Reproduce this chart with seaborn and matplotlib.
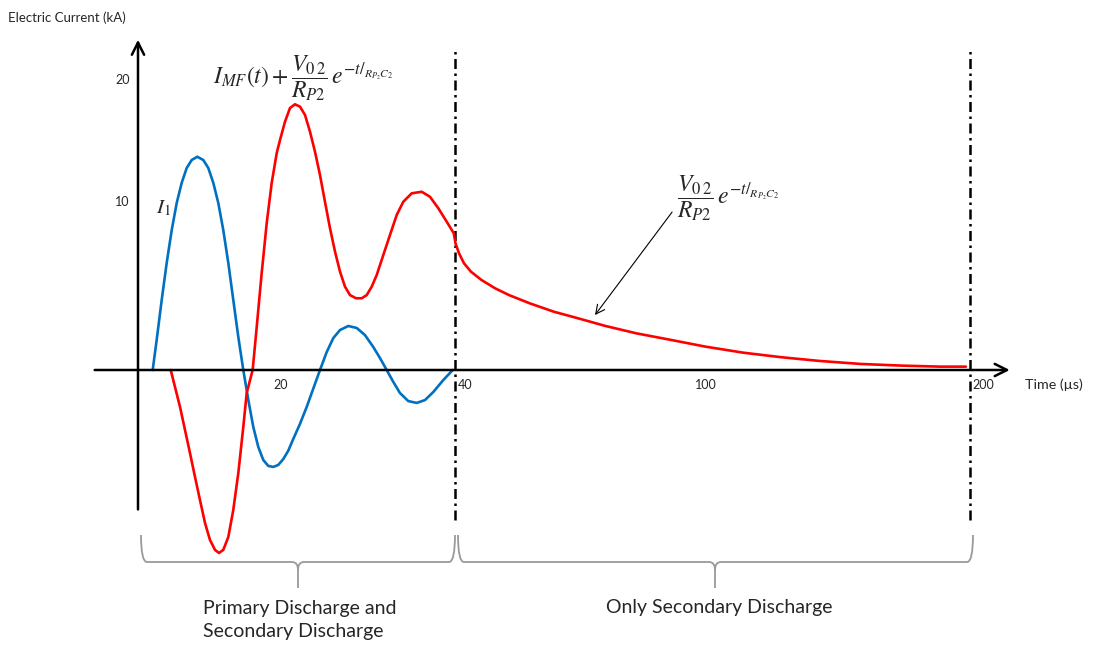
import matplotlib
matplotlib.use('Agg')
import matplotlib.pyplot as plt
import matplotlib.transforms as mtransforms
from matplotlib.path import Path
from matplotlib.patches import PathPatch
import seaborn as sns
import numpy as np

# --- data (time in us, current in kA) ---
i1_time = [2.07, 2.63, 3.34, 4.04, 4.75, 5.45, 6.15, 6.86, 7.56, 8.35, 9.20, 9.90,
           10.61, 11.31, 12.01, 12.72, 13.42, 14.13, 14.83, 15.54, 16.24, 16.94,
           17.65, 18.35, 19.06, 19.76, 20.38, 20.95, 21.52, 22.29, 23.05, 23.81,
           24.57, 25.34, 26.09, 26.86, 27.81, 28.77, 29.71, 30.66, 31.43, 32.19,
           32.95, 33.71, 34.66, 35.62, 36.57, 37.52, 38.66, 39.74]
i1_current = [0, 1.79, 4.17, 6.37, 8.33, 9.94, 11.56, 12.79, 13.44, 13.71, 13.44,
              12.79, 11.56, 9.94, 8.33, 6.37, 4.17, 1.96, 0, -1.79, -3.39, -4.58,
              -5.36, -5.71, -5.77, -5.65, -5.30, -4.80, -4.10, -3.20, -2.20, -1.10,
              0, 1.07, 1.90, 2.38, 2.62, 2.50, 2.08, 1.37, 0.71, 0,
              -0.71, -1.37, -1.85, -1.96, -1.79, -1.31, -0.60, 0]

i2_time = [4.61, 5.21, 5.92, 6.62, 7.32, 8.03, 8.73, 9.44, 10.14, 10.85, 11.41,
           12.01, 12.72, 13.42, 14.13, 14.83, 15.31, 16.15, 16.72, 17.42, 18.13,
           18.83, 19.54, 20.0, 20.57, 21.14, 21.71, 22.29, 22.86, 23.43, 24.0,
           24.57, 25.14, 25.71, 26.29, 26.86, 27.43, 28.0, 28.69, 29.34, 29.91,
           30.48, 31.05, 31.81, 32.57, 33.34, 34.09, 35.05, 36.19, 37.14, 38.09,
           39.05, 39.86, 40.12, 40.96, 42.16, 43.84, 46.34, 49.65, 52.96, 57.93,
           63.71, 69.50, 76.12, 83.58, 91.84, 100.19, 114.49, 128.83, 143.13,
           158.75, 174.34, 188.68, 198.45]
i2_current = [0, -1.01, -2.20, -3.57, -4.94, -6.37, -7.74, -9.11, -10.12, -10.71,
              -10.89, -10.71, -9.94, -8.33, -6.13, -3.39, -1.37, 0, 2.56, 5.77,
              8.75, 11.56, 14.02, 15.08, 16.58, 17.70, 18.01, 17.81, 17.13, 15.76,
              14.12, 12.21, 10.02, 8.45, 7.04, 5.85, 4.96, 4.46, 4.27, 4.27, 4.46,
              4.96, 5.65, 6.85, 8.04, 9.23, 10.02, 10.71, 10.84, 10.43, 9.63,
              8.83, 8.14, 7.54, 6.95, 6.35, 5.85, 5.36, 4.86, 4.46, 3.97,
              3.47, 3.08, 2.62, 2.18, 1.79, 1.39, 1.03, 0.76, 0.54,
              0.36, 0.26, 0.20, 0.20]

x_ticks = [20, 40, 100, 200]
x_tick_labels = ['20', '40', '100', '200']
y_ticks = [10, 20]
y_tick_labels = ['10', '20']
phase_bounds = [40, 200]

# the drawing uses a broken (piecewise) axis in both directions
XT = np.array([-20, 0, 20, 40, 100, 200, 300])
XP = np.array([-142, 0, 142, 317, 567, 832, 1097])
YI = np.array([-30, 0, 10, 20, 40])
YP = np.array([-504, 0, 168, 290, 534])

W, H = 1093, 645
sns.set_theme(style='white')
plt.rcParams['font.family'] = ['Lato', 'DejaVu Sans']
plt.rcParams['mathtext.fontset'] = 'stix'

fig = plt.figure(figsize=(W / 100, H / 100), dpi=100)
ax = fig.add_axes([0, 0, 1, 1])
ax.set_xscale('function', functions=(lambda t: np.interp(t, XT, XP),
                                     lambda p: np.interp(p, XP, XT)))
ax.set_yscale('function', functions=(lambda v: np.interp(v, YI, YP),
                                     lambda p: np.interp(p, YP, YI)))
ax.set_xlim(np.interp(-138, XP, XT), np.interp(W - 138, XP, XT))
ax.set_ylim(np.interp(370 - H, YP, YI), np.interp(370, YP, YI))
ax.axis('off')

# pixel transform for labels / decorations
pix = mtransforms.Affine2D().scale(1 / W, -1 / H).translate(0, 1) + ax.transAxes

blue = '#0070C0'
red = '#FF0000'

# axes with arrows
ax.annotate('', xy=(215, 0), xytext=(-6.1, 0),
            arrowprops=dict(arrowstyle='->', lw=1.8, color='black', mutation_scale=22,
                            shrinkA=0, shrinkB=0))
ax.annotate('', xy=(0, 23.3), xytext=(0, -8.3),
            arrowprops=dict(arrowstyle='->', lw=1.8, color='black', mutation_scale=22,
                            shrinkA=0, shrinkB=0))

# phase boundaries
for b in phase_bounds:
    ax.plot([b, b], [-8.9, 22.5], color='black', lw=1.8, ls=(0, (4, 1.8, 1, 1.8)))

sns.lineplot(x=i1_time, y=i1_current, color=blue, lw=1.9, ax=ax, sort=False)
sns.lineplot(x=i2_time, y=i2_current, color=red, lw=1.9, ax=ax, sort=False)

# tick labels
tick_fs = 9
for t, lab in zip(x_ticks, x_tick_labels):
    ha = 'left' if t in phase_bounds else 'center'
    ax.annotate(lab, xy=(t, 0), xytext=(2 if ha == 'left' else 0.5, -11),
                textcoords='offset points', ha=ha, va='center', fontsize=tick_fs)
for v, lab in zip(y_ticks, y_tick_labels):
    ax.annotate(lab, xy=(0, v), xytext=(-6, 0), textcoords='offset points',
                ha='right', va='center', fontsize=tick_fs)

ax.text(8, 18, 'Electric Current (kA)', transform=pix, fontsize=9.5, va='center', ha='left')
ax.text(1025, 385, 'Time (\u00b5s)', transform=pix, fontsize=10.3, va='center', ha='left')

# formulas
ax.text(213, 78, r'$I_{MF}(t)+\dfrac{V_{0\,2}}{R_{P2}}\,e^{-t/_{R_{P_2}C_2}}$',
        transform=pix, fontsize=17, va='center', ha='left')
ax.text(677, 198, r'$\dfrac{V_{0\,2}}{R_{P2}}\,e^{-t/_{R_{P_2}C_2}}$',
        transform=pix, fontsize=17, va='center', ha='left')
ax.text(163, 208, r'$I_1$', transform=pix, fontsize=15, va='center', ha='center')
ax.annotate('', xy=(73.6, 3.27), xytext=(92.1, 9.4),
            arrowprops=dict(arrowstyle='->', lw=0.8, color='black', mutation_scale=16,
                            shrinkA=0, shrinkB=0))


def brace(x0, x1, xm, ytop=535, ymid=562, ytip=588, r=6):
    verts = [(x0, ytop), (x0, ymid), (x0 + r, ymid),
             (xm - r, ymid), (xm, ymid), (xm, ymid + 8),
             (xm, ytip), (xm, ymid + 8),
             (xm, ymid), (xm + r, ymid),
             (x1 - r, ymid), (x1, ymid), (x1, ytop)]
    codes = [Path.MOVETO, Path.CURVE3, Path.CURVE3,
             Path.LINETO, Path.CURVE3, Path.CURVE3,
             Path.LINETO, Path.MOVETO,
             Path.CURVE3, Path.CURVE3,
             Path.LINETO, Path.CURVE3, Path.CURVE3]
    ax.add_patch(PathPatch(Path(verts, codes), transform=pix, fill=False,
                           edgecolor='#9a9a9a', lw=1.3))


brace(141, 455, 298)
brace(458, 973, 715)

ax.text(203, 620, 'Primary Discharge and\nSecondary Discharge', transform=pix,
        fontsize=14, va='center', ha='left', linespacing=1.47)
ax.text(606, 607, 'Only Secondary Discharge', transform=pix,
        fontsize=14, va='center', ha='left')

fig.savefig('out.png', dpi=100)
